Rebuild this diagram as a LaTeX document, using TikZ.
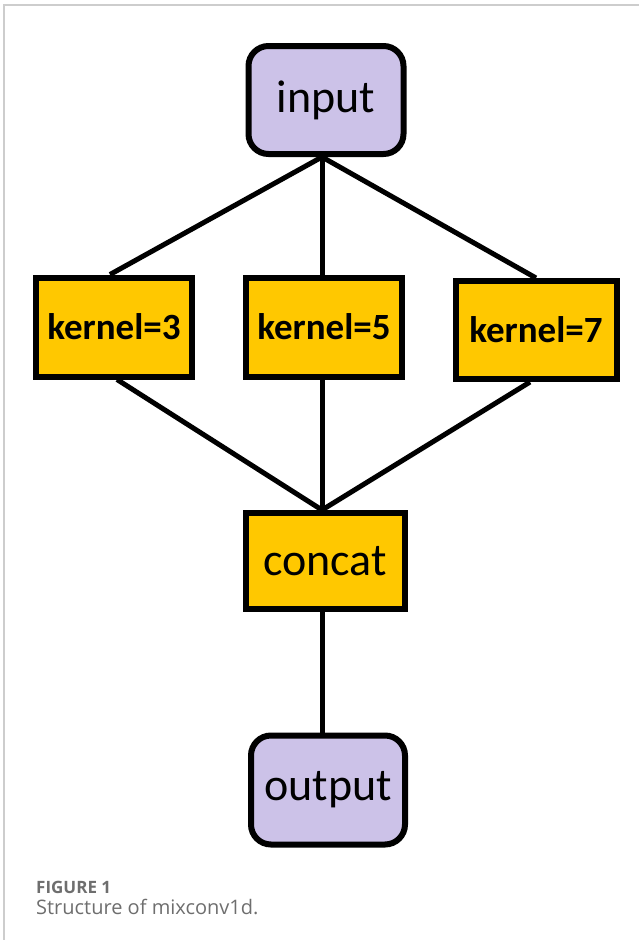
\documentclass[tikz,border=0pt]{standalone}
\usepackage{fontspec}
\setmainfont{Carlito}
\newfontfamily\captionfont{Open Sans}
\definecolor{lavender}{RGB}{204,194,232}
\definecolor{amber}{RGB}{255,200,0}
\definecolor{capgray}{RGB}{110,110,110}
\definecolor{framegray}{RGB}{205,205,205}
\begin{document}
\begin{tikzpicture}[x=1pt, y=-1pt,
	ionode/.style={draw, line width=6pt, fill=lavender, rounded corners=20pt, minimum width=155pt, minimum height=108pt, font=\fontsize{46}{50}\selectfont, inner sep=0pt},
	convnode/.style={draw, line width=6pt, fill=amber, minimum width=156pt, minimum height=99pt, font=\fontsize{37}{40}\selectfont\bfseries, inner sep=0pt},
	link/.style={line width=5pt}]
	\useasboundingbox (0,0) rectangle (639,940);
	% frame of the page
	\draw[framegray, line width=1.5pt] (4,940) -- (4,5) -- (639,5);
	% nodes
	\node[ionode] (input) at (326,100) {input};
	\node[convnode] (k3) at (114,327) {kernel=3};
	\node[convnode] (k5) at (324,327) {kernel=5};
	\node[convnode, minimum width=161pt, minimum height=98pt] (k7) at (536,330) {kernel=7};
	\node[convnode, minimum width=159pt, minimum height=96pt, font=\fontsize{46}{50}\selectfont] (concat) at (325,561) {concat};
	\node[ionode, minimum width=154pt, minimum height=109pt] (output) at (328,790) {output};
	\coordinate (split) at (322,157);
	\coordinate (merge) at (322,510);
	% connectors
	\draw[link] (split) -- ([xshift=-4pt]k3.north);
	\draw[link] (split) -- (k5.north -| split);
	\draw[link] (split) -- (k7.north);
	\draw[link] ([xshift=3pt]k3.south) -- (merge);
	\draw[link] (k5.south -| merge) -- (merge);
	\draw[link] ([xshift=-6pt]k7.south) -- (merge);
	\draw[link] (concat.south -| merge) -- (output.north -| merge);
	% caption
	\node[anchor=base west, inner sep=0pt, text=capgray, font=\captionfont\fontsize{17}{19}\selectfont\bfseries] (fig) at (36,893) {FIGURE 1};
	\node[anchor=base west, inner sep=0pt, text=capgray, font=\captionfont\fontsize{20}{22}\selectfont] (cap) at (36,914) {Structure of mixconv1d.};
\end{tikzpicture}
\end{document}
